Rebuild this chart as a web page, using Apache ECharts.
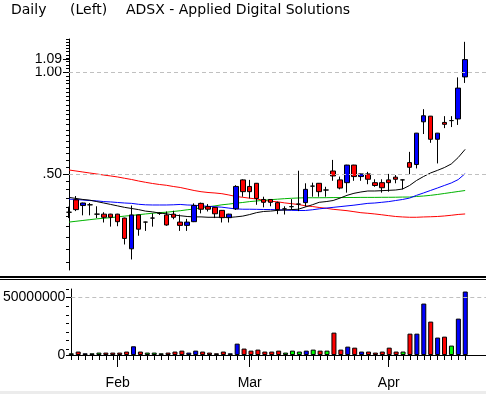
<!DOCTYPE html>
<html><head><meta charset="utf-8">
<script src="https://cdn.jsdelivr.net/npm/echarts@6/dist/echarts.min.js"></script>
<style>html,body{margin:0;padding:0;background:#fff}#c{width:486px;height:394px}</style>
</head><body><div id="c"></div>
<script>
const dates = ['2002-01-23','2002-01-24','2002-01-25','2002-01-28','2002-01-29','2002-01-30','2002-01-31',
'2002-02-01','2002-02-04','2002-02-05','2002-02-06','2002-02-07','2002-02-08','2002-02-11','2002-02-12','2002-02-13','2002-02-14','2002-02-15','2002-02-19','2002-02-20','2002-02-21','2002-02-22','2002-02-25','2002-02-26','2002-02-27','2002-02-28',
'2002-03-01','2002-03-04','2002-03-05','2002-03-06','2002-03-07','2002-03-08','2002-03-11','2002-03-12','2002-03-13','2002-03-14','2002-03-15','2002-03-18','2002-03-19','2002-03-20','2002-03-21','2002-03-22','2002-03-25','2002-03-26','2002-03-27','2002-03-28',
'2002-04-01','2002-04-02','2002-04-03','2002-04-04','2002-04-05','2002-04-08','2002-04-09','2002-04-10','2002-04-11','2002-04-12','2002-04-15','2002-04-16'];
const padDates = ['2002-04-17','2002-04-18','2002-04-19'];
const opens = [0.386,0.420,0.404,0.406,0.381,0.381,0.381,0.381,0.371,0.301,
 0.379,0.361,0.371,0.383,0.379,0.381,0.361,0.353,0.362,0.410,
 0.401,0.399,0.391,0.372,0.395,0.481,0.460,0.470,0.421,0.421,
 0.412,0.395,0.401,0.408,0.412,0.461,0.470,0.449,0.511,0.481,
 0.472,0.532,0.492,0.501,0.472,0.472,0.481,0.490,0.481,0.541,
 0.534,0.714,0.742,0.634,0.711,0.720,0.728,0.969];
const closes = [0.386,0.393,0.411,0.406,0.381,0.373,0.373,0.362,0.323,0.379,
 0.344,0.361,0.371,0.383,0.354,0.373,0.353,0.361,0.404,0.394,
 0.394,0.382,0.372,0.381,0.460,0.444,0.444,0.424,0.413,0.413,
 0.393,0.395,0.401,0.408,0.451,0.461,0.444,0.449,0.494,0.455,
 0.532,0.492,0.501,0.483,0.463,0.456,0.472,0.483,0.481,0.524,
 0.661,0.744,0.634,0.661,0.702,0.720,0.898,1.09];
const lows = [0.371,0.389,0.378,0.378,0.371,0.360,0.350,0.351,0.310,0.280,
 0.329,0.340,0.350,0.379,0.352,0.368,0.340,0.340,0.361,0.383,
 0.388,0.371,0.360,0.360,0.392,0.429,0.424,0.406,0.399,0.402,
 0.381,0.380,0.392,0.389,0.401,0.429,0.429,0.429,0.478,0.451,
 0.441,0.478,0.478,0.467,0.459,0.441,0.444,0.470,0.451,0.500,
 0.520,0.657,0.619,0.538,0.684,0.689,0.699,0.930];
const highs = [0.401,0.431,0.412,0.411,0.402,0.386,0.382,0.382,0.372,0.404,
 0.380,0.362,0.383,0.386,0.388,0.390,0.380,0.369,0.410,0.412,
 0.408,0.400,0.392,0.382,0.464,0.483,0.481,0.471,0.429,0.421,
 0.415,0.402,0.422,0.512,0.470,0.472,0.471,0.459,0.551,0.492,
 0.533,0.533,0.502,0.508,0.483,0.483,0.501,0.497,0.482,0.582,
 0.662,0.778,0.743,0.662,0.742,0.742,0.966,1.23];
const volumes = [1500000,3000000,1500000,1500000,2100000,2100000,2100000,2100000,3000000,7600000,
 3000000,2100000,2100000,1500000,2100000,3000000,3800000,2100000,3800000,3000000,
 2100000,1500000,3000000,1500000,9900000,5600000,3800000,4700000,3000000,3000000,
 3800000,2100000,3800000,3000000,3800000,4700000,3800000,3800000,19500000,4700000,
 7300000,6400000,3000000,3000000,2100000,3000000,6400000,3000000,3000000,18600000,
 18600000,44800000,29100000,15200000,16000000,8200000,31700000,55300000];
const maBlack = [0.427,0.424,0.421,0.419,0.415,0.411,0.407,0.403,0.399,0.396,
 0.393,0.389,0.387,0.384,0.382,0.379,0.377,0.375,0.374,0.374,
 0.373,0.373,0.373,0.3725,0.374,0.376,0.380,0.385,0.388,0.389,
 0.391,0.392,0.393,0.394,0.400,0.406,0.413,0.415,0.418,0.425,
 0.433,0.439,0.443,0.446,0.446,0.447,0.448,0.449,0.452,0.463,
 0.479,0.492,0.504,0.513,0.523,0.536,0.560,0.592];
const maBlue = [0.422,0.421,0.4195,0.418,0.417,0.415,0.414,0.4125,0.411,0.410,
 0.4075,0.406,0.4055,0.4055,0.4055,0.406,0.407,0.4055,0.405,0.403,
 0.402,0.4006,0.3995,0.397,0.395,0.394,0.394,0.3937,0.3933,0.3931,
 0.3925,0.392,0.391,0.3906,0.3906,0.3925,0.395,0.397,0.399,0.401,
 0.403,0.405,0.4075,0.410,0.411,0.413,0.415,0.418,0.421,0.425,
 0.433,0.440,0.4475,0.455,0.463,0.471,0.482,0.502];
const maGreen = [0.361,0.363,0.365,0.367,0.369,0.3705,0.372,0.374,0.376,0.3776,
 0.3796,0.3815,0.3833,0.385,0.386,0.388,0.390,0.3925,0.3946,0.398,
 0.4006,0.403,0.406,0.408,0.4105,0.4125,0.415,0.4167,0.4187,0.4204,
 0.4218,0.4233,0.4244,0.4253,0.4259,0.426,0.426,0.4262,0.4265,0.4265,
 0.4267,0.4267,0.427,0.427,0.427,0.4272,0.4273,0.4275,0.428,0.428,
 0.4297,0.431,0.433,0.4355,0.4385,0.4415,0.4445,0.4475];
const maRed = [0.5145,0.511,0.5075,0.504,0.5007,0.497,0.494,0.4906,0.4863,0.4823,
 0.4774,0.4732,0.4694,0.4662,0.4637,0.4599,0.4568,0.4521,0.4475,0.4439,
 0.4415,0.440,0.4379,0.4341,0.4297,0.4273,0.4247,0.4224,0.4187,0.4159,
 0.4144,0.4114,0.4091,0.4069,0.4033,0.4014,0.3987,0.3965,0.3938,0.392,
 0.3901,0.3875,0.3848,0.3833,0.3815,0.3794,0.3771,0.375,0.3738,0.373,
 0.373,0.3738,0.3743,0.375,0.3763,0.3781,0.3802,0.3815];
const priceLabelValues = [0.5, 1.0];
const lastPrice = 1.09;
const priceMajorTicks = [0.5, 1.0, 1.09];
const priceMinorTicks = [];
for (let k = 11; k <= 50; k++) priceMinorTicks.push(+(k * 0.025).toFixed(3));
const volumeLabelValues = [0, 50000000];
const volumeMinorTicks = [0];
for (let k = 0; k <= 7; k++) volumeMinorTicks.push(5000000 + 7500000 * k);
const monthNames = {'01':'Jan','02':'Feb','03':'Mar','04':'Apr'};

const cats = dates.concat(padDates);
const isMonthStart = i => i > 0 && i < dates.length && dates[i].slice(5,7) !== dates[i-1].slice(5,7);
const candleData = dates.map((d,i) => [opens[i], closes[i], lows[i], highs[i]]);
const volColor = i => closes[i] > opens[i] ? '#0000ff' : (closes[i] < opens[i] ? '#ff0000' : '#00ff00');
const volData = volumes.map((v,i) => ({value: v, itemStyle: {color: volColor(i)}}));

const F = 'Liberation Sans';
const chart = echarts.init(document.getElementById('c'), null, {renderer:'canvas'});
const hiddenX = gi => ({gridIndex: gi, type:'category', data: cats, boundaryGap:false, show:false});
chart.setOption({
  animation: false,
  backgroundColor: '#fff',
  title: [
    {text:'Daily', left:11, top:3, padding:0, textStyle:{fontFamily:'DejaVu Sans', fontSize:14, fontWeight:'normal', color:'#000'}},
    {text:'(Left)', left:70, top:3, padding:0, textStyle:{fontFamily:'DejaVu Sans', fontSize:14, fontWeight:'normal', color:'#000'}},
    {text:'ADSX - Applied Digital Solutions', left:126, top:3, padding:0, textStyle:{fontFamily:'DejaVu Sans', fontSize:14, fontWeight:'normal', color:'#000'}}
  ],
  graphic: [
    {type:'rect', shape:{x:0, y:276, width:486, height:2}, style:{fill:'#000'}},
    {type:'rect', shape:{x:0, y:279, width:486, height:1}, style:{fill:'#000'}},
    {type:'rect', shape:{x:0, y:391, width:486, height:3}, style:{fill:'#ececec'}}
  ],
  grid: [
    {left:69, top:39, width:420, height:231},
    {left:69, top:289, width:420, height:66},
    {left:69, top:289, width:420, height:66},
    {left:69, top:39, width:420, height:231}
  ],
  xAxis: [
    hiddenX(0),
    {gridIndex:1, type:'category', data:cats, boundaryGap:false,
     axisLine:{show:true, onZero:false, lineStyle:{color:'#000', width:1}},
     axisTick:{show:true, interval:(i)=> i < dates.length, length:5, lineStyle:{color:'#000'}},
     axisLabel:{show:false}, splitLine:{show:false}},
    {gridIndex:2, type:'category', data:cats, boundaryGap:false,
     axisLine:{show:false, onZero:false},
     axisTick:{show:true, interval:(i)=> isMonthStart(i), length:12, lineStyle:{color:'#000'}},
     axisLabel:{show:true, interval:(i)=> isMonthStart(i), formatter:(v)=> monthNames[v.slice(5,7)], margin:21, fontSize:14, fontFamily:F, color:'#000'},
     splitLine:{show:false}},
    hiddenX(3)
  ],
  yAxis: [
    {gridIndex:0, type:'log', logBase:10, min:0.2606, max:1.254,
     axisLine:{show:true, lineStyle:{color:'#000'}},
     axisTick:{show:true, customValues:priceMajorTicks, length:6, lineStyle:{color:'#000'}},
     axisLabel:{show:true, customValues:priceLabelValues, hideOverlap:false, margin:7, fontSize:14, fontFamily:F, color:'#000',
       formatter:(v)=> v < 1 ? v.toFixed(2).slice(1) : v.toFixed(2)},
     splitLine:{show:false}},
    {gridIndex:1, type:'value', min:0, max:57500000,
     axisLine:{show:true, lineStyle:{color:'#000'}},
     axisTick:{show:true, customValues:volumeLabelValues, length:3, lineStyle:{color:'#000'}},
     axisLabel:{show:true, customValues:volumeLabelValues, margin:6, fontSize:14, fontFamily:F, color:'#000', formatter:(v)=> String(v)},
     splitLine:{show:false}},
    {gridIndex:2, type:'value', min:0, max:57500000,
     axisLine:{show:false},
     axisTick:{show:true, customValues:volumeMinorTicks, length:3, lineStyle:{color:'#000'}},
     axisLabel:{show:false}, splitLine:{show:false}},
    {gridIndex:3, type:'log', logBase:10, min:0.2606, max:1.254,
     axisLine:{show:false},
     axisTick:{show:true, customValues:priceMinorTicks, length:3, lineStyle:{color:'#000'}},
     axisLabel:{show:false}, splitLine:{show:false}}
  ],
  series: [
    {type:'line', name:'MA long', xAxisIndex:0, yAxisIndex:0, data:maRed, symbol:'none', silent:true, z:2, lineStyle:{color:'#ff0000', width:1}},
    {type:'line', name:'MA mid2', xAxisIndex:0, yAxisIndex:0, data:maGreen, symbol:'none', silent:true, z:2, lineStyle:{color:'#00b400', width:1}},
    {type:'line', name:'MA mid', xAxisIndex:0, yAxisIndex:0, data:maBlue, symbol:'none', silent:true, z:2, lineStyle:{color:'#0000ff', width:1}},
    {type:'line', name:'MA short', xAxisIndex:0, yAxisIndex:0, data:maBlack, symbol:'none', silent:true, z:2, lineStyle:{color:'#000', width:1}},
    {type:'candlestick', name:'ADSX', xAxisIndex:0, yAxisIndex:0, data:candleData, barWidth:5, clip:false, z:3, silent:true,
     itemStyle:{color:'#0000ff', color0:'#ff0000', borderColor:'#000', borderColor0:'#000', borderColorDoji:'#000', borderWidth:1},
     markLine:{silent:true, symbol:'none', label:{show:false}, lineStyle:{color:'#c0c0c0', type:[4,3], width:1},
       data:[{yAxis:1.0},{yAxis:0.5}]}},
    {type:'line', name:'Last', xAxisIndex:0, yAxisIndex:0, data:[], symbol:'none', silent:true, z:4,
     markLine:{silent:true, symbol:'none', animation:false,
       lineStyle:{color:'rgba(255,255,255,0)', width:1, type:'solid'},
       label:{show:true, position:'start', distance:7, formatter:lastPrice.toFixed(2), fontSize:14, fontFamily:F, color:'#000', backgroundColor:'#fff'},
       data:[{yAxis:lastPrice}]}},
    {type:'bar', name:'Volume', xAxisIndex:1, yAxisIndex:1, data:volData, barWidth:5, clip:false, silent:true,
     itemStyle:{borderColor:'#000', borderWidth:1},
     markLine:{silent:true, symbol:'none', label:{show:false}, lineStyle:{color:'#c0c0c0', type:[4,3], width:1},
       data:[{yAxis:50000000}]}}
  ]
});
</script></body></html>
